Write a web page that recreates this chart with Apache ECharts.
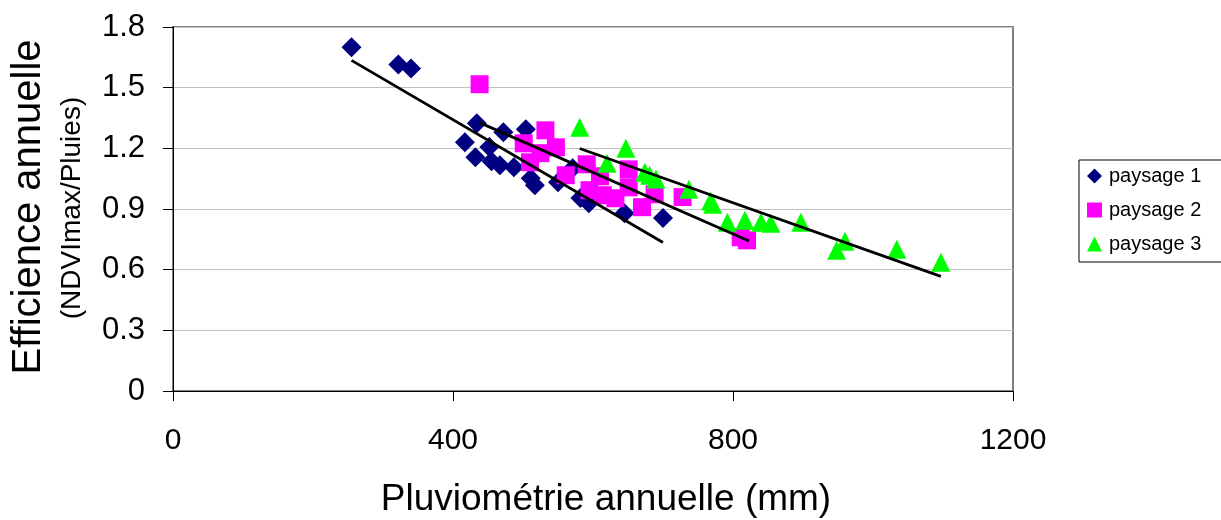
<!DOCTYPE html>
<html><head><meta charset="utf-8">
<script src="https://cdn.jsdelivr.net/npm/echarts@6/dist/echarts.min.js"></script>
<style>html,body{margin:0;padding:0;background:#fff}#c{width:1221px;height:520px}</style>
</head><body><div id="c"></div>
<script>
// paysage 1 : [pluviométrie (mm), efficience]
var paysage1 = [[255,1.70],[322,1.615],[340,1.595],[434,1.324],[417,1.23],[472,1.279],[504,1.294],[432,1.156],[452,1.206],[455,1.136],[467,1.116],[487,1.106],[511,1.052],[517,1.017],[550,1.032],[571,1.101],[582,0.954],[594,0.929],[645,0.879],[700,0.855]];
var paysage2 = [[438,1.517],[532,1.289],[501,1.225],[547,1.205],[510,1.131],[525,1.176],[561,1.067],[591,1.121],[610,1.062],[595,0.993],[614,0.968],[632,0.953],[651,1.096],[651,1.007],[670,0.909],[688,0.973],[728,0.959],[811,0.76],[820,0.745]];
var paysage3 = [[581,1.304],[647,1.2],[620,1.126],[674,1.082],[681,1.067],[690,1.048],[737,0.998],[768,0.939],[771,0.923],[792,0.834],[817,0.844],[840,0.834],[854,0.83],[897,0.834],[948,0.696],[960,0.74],[1034,0.701],[1097,0.637]];
// trend lines (end points)
var trend1 = [[255,1.635],[700,0.734]];
var trend2 = [[438,1.327],[823,0.742]];
var trend3 = [[581,1.199],[1097,0.567]];
var seriesNames = ['paysage 1','paysage 2','paysage 3'];
var xTitle = 'Pluviométrie annuelle (mm)';
var yTitle = 'Efficience annuelle';
var ySubTitle = '(NDVImax/Pluies)';

var FONT = 'Liberation Sans, Arial, sans-serif';
var chart = echarts.init(document.getElementById('c'));
function trend(d){
  return {type:'line', data:d, symbol:'none', silent:true, z:5,
    lineStyle:{color:'#000', width:2.8}, legendHoverLink:false};
}
chart.setOption({
  animation:false,
  backgroundColor:'#fff',
  grid:{left:173, right:208, top:27, bottom:129, show:true, borderColor:'#808080', borderWidth:2, backgroundColor:'#fff'},
  xAxis:{type:'value', min:0, max:1200, interval:400,
    axisLine:{show:true, onZero:false, lineStyle:{color:'#000', width:1}},
    axisTick:{show:true, inside:false, length:10, lineStyle:{color:'#000'}},
    axisLabel:{margin:35, fontSize:30, fontFamily:FONT, color:'#000',
      formatter:function(v){return String(v);}},
    splitLine:{show:false}},
  yAxis:{type:'value', min:0, max:1.8, interval:0.3,
    axisLine:{show:true, onZero:false, lineStyle:{color:'#000', width:1}},
    axisTick:{show:true, inside:false, length:10, lineStyle:{color:'#000'}},
    axisLabel:{margin:28, fontSize:31, fontFamily:FONT, color:'#000',
      formatter:function(v){return v===0?'0':v.toFixed(1);}},
    splitLine:{show:true, lineStyle:{color:'#c0c0c0', width:1}}},
  legend:{data:seriesNames, orient:'vertical', left:1079, top:160,
    padding:[6,22,8,8], itemGap:14, itemWidth:15, itemHeight:15,
    borderColor:'#000', borderWidth:1, backgroundColor:'#fff',
    textStyle:{fontSize:20, fontFamily:FONT, color:'#000', lineHeight:20, padding:[0,0,0,2]}},
  graphic:[
    {type:'text', x:606, y:500, style:{text:xTitle, fontSize:37, fontFamily:FONT, fill:'#000', align:'center', verticalAlign:'middle'}},
    {type:'text', x:29, y:207, rotation:Math.PI/2, style:{text:yTitle, fontSize:40, fontFamily:FONT, fill:'#000', align:'center', verticalAlign:'middle'}},
    {type:'text', x:72, y:208, rotation:Math.PI/2, style:{text:ySubTitle, fontSize:28, fontFamily:FONT, fill:'#000', align:'center', verticalAlign:'middle'}}
  ],
  series:[
    {name:seriesNames[0], type:'scatter', data:paysage1, symbol:'diamond', symbolSize:20, z:2, itemStyle:{color:'#000080', opacity:1}},
    {name:seriesNames[1], type:'scatter', data:paysage2, symbol:'rect', symbolSize:18, z:3, itemStyle:{color:'#ff00ff', opacity:1}},
    {name:seriesNames[2], type:'scatter', data:paysage3, symbol:'triangle', symbolSize:19, z:4, itemStyle:{color:'#00ff00', opacity:1}},
    trend(trend1), trend(trend2), trend(trend3)
  ]
});
</script></body></html>
